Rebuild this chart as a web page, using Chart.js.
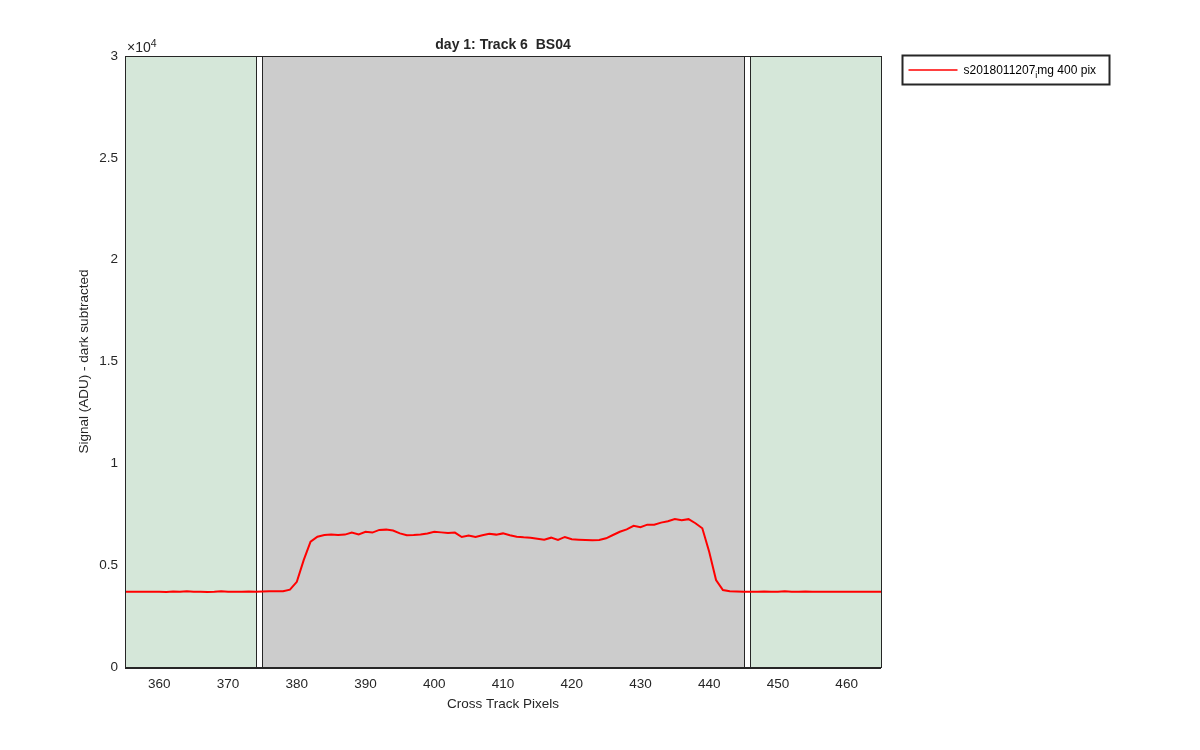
<!DOCTYPE html>
<html>
<head>
<meta charset="utf-8">
<script src="https://cdn.jsdelivr.net/npm/chart.js@4"></script>
<style>
  body { margin: 0; background: #fff; }
</style>
</head>
<body>
<canvas id="chart" width="1200" height="750"></canvas>
<script>
// cross track pixel index
const pixels = [
  355, 356, 357, 358, 359, 360, 361, 362, 363, 364, 365, 366, 367, 368, 369, 370,
  371, 372, 373, 374, 375, 376, 377, 378, 379, 380, 381, 382, 383, 384, 385, 386,
  387, 388, 389, 390, 391, 392, 393, 394, 395, 396, 397, 398, 399, 400, 401, 402,
  403, 404, 405, 406, 407, 408, 409, 410, 411, 412, 413, 414, 415, 416, 417, 418,
  419, 420, 421, 422, 423, 424, 425, 426, 427, 428, 429, 430, 431, 432, 433, 434,
  435, 436, 437, 438, 439, 440, 441, 442, 443, 444, 445, 446, 447, 448, 449, 450,
  451, 452, 453, 454, 455, 456, 457, 458, 459, 460, 461, 462, 463, 464, 465
];
// signal (ADU), dark subtracted
const signal = [
  3700, 3690, 3690, 3690, 3690, 3690, 3680, 3710, 3690, 3720, 3700, 3690, 3680, 3690, 3720, 3700,
  3700, 3700, 3710, 3700, 3710, 3720, 3720, 3720, 3800, 4180, 5250, 6150, 6400, 6480, 6510, 6480,
  6500, 6600, 6510, 6640, 6600, 6730, 6745, 6700, 6560, 6470, 6480, 6510, 6560, 6640, 6610, 6580,
  6600, 6380, 6450, 6380, 6470, 6540, 6500, 6560, 6470, 6400, 6370, 6350, 6300, 6250, 6350, 6235,
  6385, 6270, 6250, 6235, 6220, 6235, 6320, 6480, 6640, 6760, 6930, 6860, 6990, 6990, 7090, 7160,
  7270, 7210, 7260, 7060, 6810, 5660, 4270, 3780, 3720, 3710, 3700, 3700, 3690, 3710, 3690, 3700,
  3720, 3700, 3700, 3710, 3700, 3690, 3700, 3700, 3700, 3700, 3700, 3690, 3690, 3690, 3700
];
const xTicks = [360, 370, 380, 390, 400, 410, 420, 430, 440, 450, 460];
const yTicks = [0, 5000, 10000, 15000, 20000, 25000, 30000];
// shaded regions (pixel ranges)
const regionStart = [355, 375, 446];
const regionEnd = [374, 445, 465];
const regionTop = 30000;

const regionColors = ['#d5e7d9', '#cccccc', '#d5e7d9'];
const axisColor = '#262626';
const fontFamily = '"Liberation Sans", Arial, Helvetica, sans-serif';

Chart.defaults.font.family = fontFamily;
Chart.defaults.color = axisColor;

const overlay = {
  id: 'overlay',
  beforeDatasetsDraw(chart) {
    const {ctx, scales: {x, y}} = chart;
    ctx.save();
    const yTop = Math.round(y.getPixelForValue(regionTop)) + 0.5;
    const yBot = Math.round(y.getPixelForValue(0)) + 0.5;
    regionStart.forEach((s, i) => {
      const x0 = Math.round(x.getPixelForValue(s)) + 0.5;
      const x1 = Math.round(x.getPixelForValue(regionEnd[i])) + 0.5;
      ctx.fillStyle = regionColors[i];
      ctx.fillRect(x0, yTop, x1 - x0, yBot - yTop);
      ctx.strokeStyle = axisColor;
      ctx.lineWidth = 1;
      ctx.strokeRect(x0, yTop, x1 - x0, yBot - yTop);
    });
    ctx.restore();
  },
  afterDraw(chart) {
    const {ctx, chartArea: a} = chart;
    ctx.save();
    // axes box
    ctx.strokeStyle = axisColor;
    ctx.lineWidth = 1;
    ctx.strokeRect(Math.round(a.left) + 0.5, Math.round(a.top) + 0.5,
      Math.round(a.right - a.left), Math.round(a.bottom - a.top));
    ctx.beginPath();
    ctx.moveTo(a.left, Math.round(a.bottom) + 1.5);
    ctx.lineTo(a.right, Math.round(a.bottom) + 1.5);
    ctx.stroke();

    const cx = (a.left + a.right) / 2;
    ctx.fillStyle = axisColor;
    // title
    ctx.font = 'bold 14px ' + fontFamily;
    ctx.textAlign = 'center';
    ctx.textBaseline = 'middle';
    ctx.fillText('day 1: Track 6  BS04', cx, a.top - 11);
    // x axis title
    ctx.font = '13.5px ' + fontFamily;
    ctx.fillText('Cross Track Pixels', cx, a.bottom + 37);
    // y axis title
    ctx.save();
    ctx.translate(a.left - 41, (a.top + a.bottom) / 2);
    ctx.rotate(-Math.PI / 2);
    ctx.fillText('Signal (ADU) - dark subtracted', 0, 0);
    ctx.restore();
    // exponent
    ctx.textAlign = 'left';
    ctx.textBaseline = 'alphabetic';
    ctx.font = '14px ' + fontFamily;
    ctx.fillText('\u00d710', a.left + 2, a.top - 4);
    const w = ctx.measureText('\u00d710').width;
    ctx.font = '10.5px ' + fontFamily;
    ctx.fillText('4', a.left + 2 + w, a.top - 9);

    // legend
    const lx = a.right + 21.5, ly = a.top - 0.5, lw = 207, lh = 29;
    ctx.lineWidth = 2;
    ctx.strokeRect(lx, ly, lw, lh);
    const my = ly + lh / 2;
    ctx.strokeStyle = '#ff0000';
    ctx.lineWidth = 1.5;
    ctx.beginPath();
    ctx.moveTo(lx + 6, my);
    ctx.lineTo(lx + 55, my);
    ctx.stroke();
    ctx.fillStyle = '#000';
    ctx.font = '12px ' + fontFamily;
    ctx.textBaseline = 'alphabetic';
    let tx = lx + 61;
    const base = my + 4;
    ctx.fillText('s2018011207', tx, base);
    tx += ctx.measureText('s2018011207').width;
    ctx.font = '9px ' + fontFamily;
    ctx.fillText('i', tx, base + 4);
    tx += ctx.measureText('i').width;
    ctx.font = '12px ' + fontFamily;
    ctx.fillText('mg 400 pix', tx, base);
    ctx.restore();
  }
};

new Chart(document.getElementById('chart'), {
  type: 'line',
  data: {
    labels: pixels,
    datasets: [{
      label: 's2018011207_img 400 pix',
      data: pixels.map((p, i) => ({x: p, y: signal[i]})),
      borderColor: '#ff0000',
      borderWidth: 2,
      pointRadius: 0,
      tension: 0,
      fill: false
    }]
  },
  options: {
    responsive: false,
    animation: false,
    devicePixelRatio: 1,
    layout: { padding: { left: 0, right: 319, top: 56, bottom: 0 } },
    plugins: {
      legend: { display: false },
      title: { display: false },
      tooltip: { enabled: false }
    },
    scales: {
      x: {
        type: 'linear',
        min: 355,
        max: 465,
        afterBuildTicks: scale => { scale.ticks = xTicks.map(v => ({value: v})); },
        afterFit: scale => { scale.height = 83; },
        grid: { display: false, drawTicks: false },
        border: { display: false },
        ticks: { padding: 9, font: { size: 13.5 }, color: axisColor, maxRotation: 0 }
      },
      y: {
        type: 'linear',
        min: 0,
        max: 30000,
        afterBuildTicks: scale => { scale.ticks = yTicks.map(v => ({value: v})); },
        afterFit: scale => { scale.width = 125; },
        grid: { display: false, drawTicks: false },
        border: { display: false },
        ticks: {
          padding: 7,
          font: { size: 13.5 },
          color: axisColor,
          callback: v => String(v / 10000)
        }
      }
    }
  },
  plugins: [overlay]
});
</script>
</body>
</html>
